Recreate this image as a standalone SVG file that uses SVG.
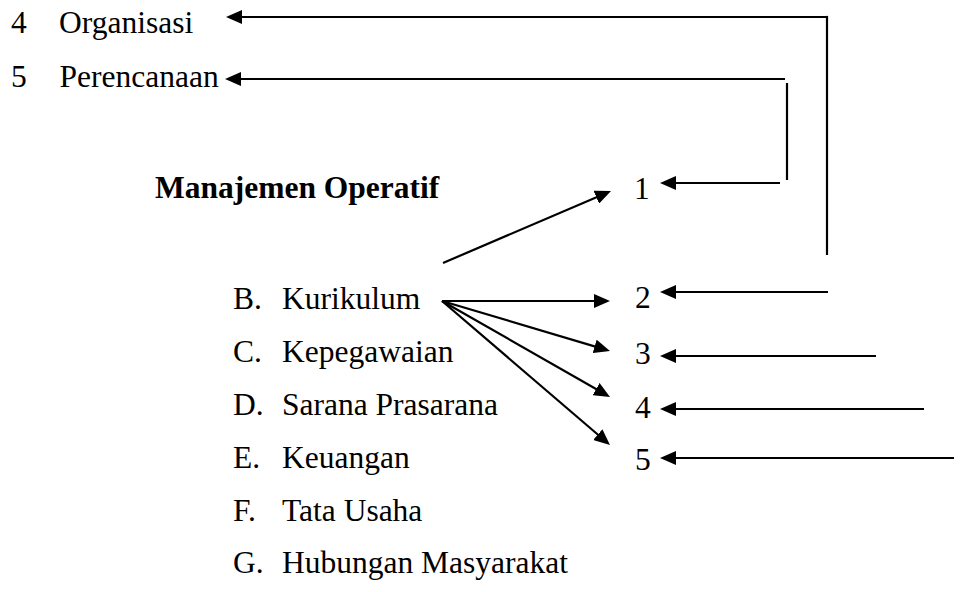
<svg xmlns="http://www.w3.org/2000/svg" width="964" height="592" viewBox="0 0 964 592">
<style>
text{font-family:"Liberation Serif","Times New Roman",serif;font-size:31.5px;fill:#000}
.b{font-weight:bold}
.ln{stroke:#000;stroke-width:2.2;fill:none}
.ar{stroke:#000;stroke-width:2.2;fill:none;marker-end:url(#ah)}
</style>
<defs>
<marker id="ah" markerUnits="userSpaceOnUse" markerWidth="17" markerHeight="14" refX="6" refY="7" orient="auto">
<path d="M0,0 L16,7 L0,14 z" fill="#000"/>
</marker>
</defs>
<rect width="964" height="592" fill="#fff"/>
<g id="n-organisasi"><text x="11" y="33">4</text><text x="59" y="33">Organisasi</text></g>
<g id="n-perencanaan"><text x="11" y="87">5</text><text x="59.5" y="87">Perencanaan</text></g>
<g id="n-manajemen"><text class="b" x="155" y="198">Manajemen Operatif</text></g>
<g id="n-b"><text x="233" y="309">B.</text><text x="282" y="309">Kurikulum</text></g>
<g id="n-c"><text x="233" y="362">C.</text><text x="282" y="362">Kepegawaian</text></g>
<g id="n-d"><text x="233" y="415">D.</text><text x="282" y="415">Sarana Prasarana</text></g>
<g id="n-e"><text x="233" y="468">E.</text><text x="282" y="468">Keuangan</text></g>
<g id="n-f"><text x="233" y="521">F.</text><text x="282" y="521">Tata Usaha</text></g>
<g id="n-g"><text x="233" y="573">G.</text><text x="282" y="573">Hubungan Masyarakat</text></g>
<g id="n-1"><text x="634" y="199">1</text></g>
<g id="n-2"><text x="635" y="308">2</text></g>
<g id="n-3"><text x="635" y="364">3</text></g>
<g id="n-4"><text x="635" y="418">4</text></g>
<g id="n-5"><text x="635" y="470">5</text></g>
<g id="connectors">
<line class="ar" x1="828" y1="17" x2="236" y2="17"/>
<line class="ln" x1="827" y1="15.9" x2="827" y2="255"/>
<line class="ar" x1="785" y1="79" x2="235" y2="79"/>
<line class="ln" x1="787" y1="83" x2="787" y2="180"/>
<line class="ar" x1="780" y1="183" x2="670" y2="183"/>
<line class="ar" x1="828" y1="292" x2="670" y2="292"/>
<line class="ar" x1="876" y1="356" x2="670" y2="356"/>
<line class="ar" x1="924" y1="409" x2="670" y2="409"/>
<line class="ar" x1="954" y1="458" x2="670" y2="458"/>
<line class="ar" x1="443" y1="263" x2="601.8" y2="194.9"/>
<line class="ar" x1="442" y1="301" x2="600" y2="301"/>
<line class="ar" x1="442" y1="301" x2="600.4" y2="348.1"/>
<line class="ar" x1="442" y1="301" x2="601.3" y2="392"/>
<line class="ar" x1="442" y1="301" x2="602.4" y2="438.5"/>
</g>
</svg>
